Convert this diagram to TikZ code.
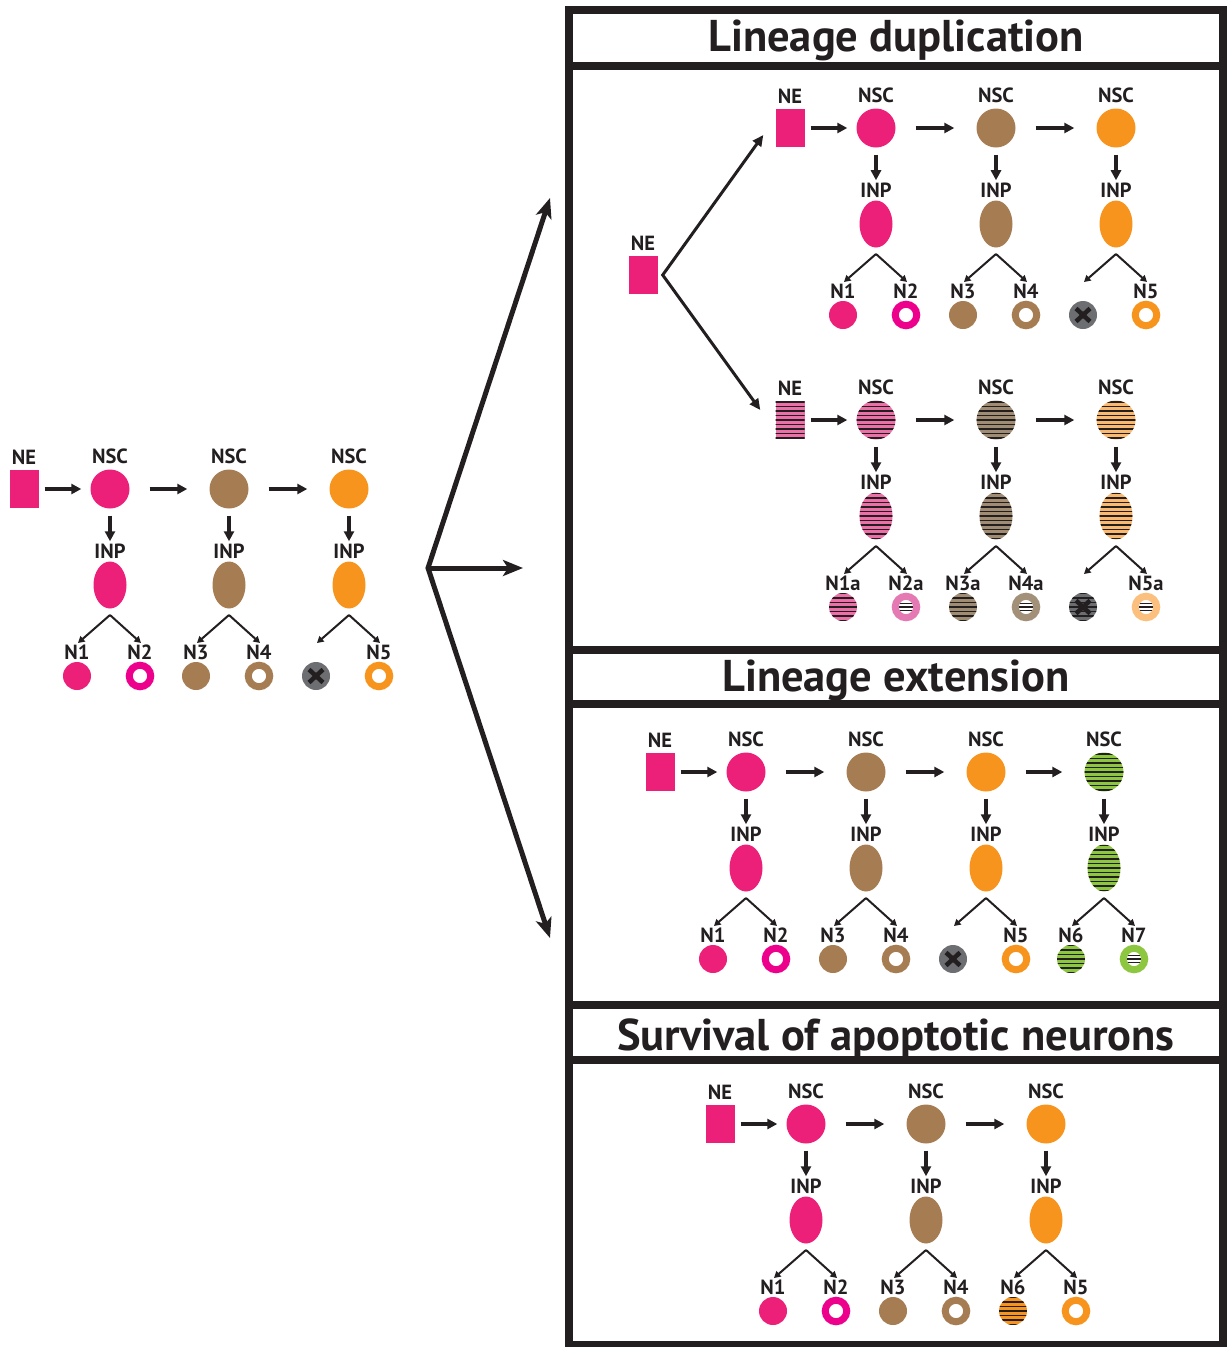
\documentclass[tikz,border=0pt]{standalone}
\usepackage{fontspec}
\setmainfont{PT Sans}
\usetikzlibrary{arrows.meta,shapes.geometric}
\definecolor{pinkc}{HTML}{EC1F79}
\definecolor{magc}{HTML}{EC008C}
\definecolor{brownc}{HTML}{A67C52}
\definecolor{orangec}{HTML}{F7941D}
\definecolor{greyc}{HTML}{6D6E71}
\definecolor{greenc}{HTML}{8DC63F}
\definecolor{pinks}{HTML}{EC6FA8}
\definecolor{browns}{HTML}{A08C73}
\definecolor{oranges}{HTML}{FBB970}
\definecolor{pinkr}{HTML}{E479B4}
\definecolor{brownr}{HTML}{A39079}
\definecolor{oranger}{HTML}{FBC07E}
\definecolor{framec}{HTML}{231F20}

\newcommand\stripeset{\foreach \k in {-6,...,6}{\draw[framec,line width=1.6pt] ([yshift=\k*4.5pt]path picture bounding box.center) ++(-25pt,0pt) -- ++(50pt,0pt);}}
\newcommand\innerstripes{\begin{scope}\clip (path picture bounding box.center) circle (7.5pt);\foreach \k in {-1,0,1}{\draw[framec,line width=1.4pt] ([yshift=\k*3.6pt]path picture bounding box.center) ++(-10pt,0pt) -- ++(20pt,0pt);}\end{scope}}
\newcommand\xmark{\draw[framec,line width=4.5pt] ([shift={(-7pt,-6.5pt)}]path picture bounding box.center) -- ([shift={(7pt,6.5pt)}]path picture bounding box.center);\draw[framec,line width=4.5pt] ([shift={(-7pt,6.5pt)}]path picture bounding box.center) -- ([shift={(7pt,-6.5pt)}]path picture bounding box.center);}

% #1 id, #2 x, #3 y, #4 cell fill style, #5 left neuron style, #6 right neuron style, #7 left label, #8 right label
\newcommand\lcol[8]{%
  \node[nscS,#4] (#1s) at (#2,#3) {};
  \node[lab] (#1sl) at (#2,#3-26) {NSC};
  \node[lab] (#1il) at (#2,#3+69) {INP};
  \node[inpS,#4] (#1i) at (#2,#3+96) {};
  \coordinate (#1ap) at (#2,#3+126);
  \coordinate (#1lt) at (#2-32,#3+154);
  \coordinate (#1rt) at (#2+31,#3+154);
  \node[lab] (#1ll) at (#2-33,#3+170) {#7};
  \node[lab] (#1rl) at (#2+30,#3+170) {#8};
  \node[#5] (#1ln) at (#2-33,#3+187) {};
  \node[#6] (#1rn) at (#2+30,#3+187) {};
  \draw[harr] ([yshift=-7pt]#1s.south) -- ([yshift=2pt]#1il.north);
  \draw[barr] (#1ap) -- (#1lt);
  \draw[barr] (#1ap) -- (#1rt);
}

\begin{document}
\begin{tikzpicture}[x=1pt,y=-1pt,
  lab/.style={font=\bfseries\fontsize{20.5}{20.5}\selectfont, inner sep=0pt, anchor=base, text=framec},
  ttl/.style={font=\bfseries\fontsize{44.5}{44.5}\selectfont, inner sep=0pt, anchor=base, text=framec},
  nscS/.style={circle, minimum size=39pt, inner sep=0pt},
  inpS/.style={ellipse, minimum width=33pt, minimum height=47pt, inner sep=0pt},
  neS/.style={rectangle, minimum width=29pt, minimum height=38pt, inner sep=0pt},
  neu/.style={circle, minimum size=28pt, inner sep=0pt},
  pk/.style={fill=pinkc}, br/.style={fill=brownc}, og/.style={fill=orangec},
  pkS/.style={fill=pinks, path picture={\stripeset}},
  brS/.style={fill=browns, path picture={\stripeset}},
  ogS/.style={fill=oranges, path picture={\stripeset}},
  gnS/.style={fill=greenc, path picture={\stripeset}},
  ogSS/.style={fill=orangec, path picture={\stripeset}},
  ring/.style={circle, minimum size=21.5pt, inner sep=0pt, line width=7pt, fill=white, draw=#1},
  sring/.style={circle, minimum size=21.5pt, inner sep=0pt, line width=7pt, fill=white, draw=#1, path picture={\innerstripes}},
  dead/.style={neu, fill=greyc, path picture={\xmark}},
  deadS/.style={neu, fill=greyc, path picture={\stripeset\xmark}},
  harr/.style={line width=3.2pt, draw=framec, -{Triangle[length=10pt,width=10pt]}},
  barr/.style={line width=2pt, draw=framec, -{Triangle[length=6.5pt,width=7pt]}},
  nearr/.style={line width=3pt, draw=framec, line join=miter, {Triangle[length=11pt,width=10pt]}-{Triangle[length=11pt,width=10pt]}},
  bigarr/.style={line width=5pt, draw=framec, line join=miter, {Stealth[length=20pt,width=16pt,inset=5pt]}-{Stealth[length=20pt,width=16pt,inset=5pt]}},
  bigarr1/.style={line width=5pt, draw=framec, -{Stealth[length=20pt,width=16pt,inset=5pt]}},
]
\useasboundingbox (0,0) rectangle (1227,1347);

% ---------- left lineage ----------
\node[neS,pk] (Lne) at (24,489) {};
\node[lab] (Lnel) at (24,464) {NE};
\lcol{La}{110}{489}{pk}{neu,pk}{ring=magc}{N1}{N2}
\lcol{Lb}{229}{489}{br}{neu,br}{ring=brownc}{N3}{N4}
\lcol{Lc}{349}{489}{og}{dead}{ring=orangec}{}{N5}
\draw[harr,shorten <=6pt,shorten >=9pt] (Lne.east) -- (Las.west);
\draw[harr,shorten <=20pt,shorten >=22pt] (Las.east) -- (Lbs.west);
\draw[harr,shorten <=20pt,shorten >=22pt] (Lbs.east) -- (Lcs.west);

% ---------- big arrows ----------
\coordinate (hub) at (428,568);
\coordinate (tup) at (550,198);
\coordinate (tmid) at (523,568);
\coordinate (tdn) at (550,938);
\draw[bigarr] (tup) -- (hub) -- (tdn);
\draw[bigarr1] (hub) -- (tmid);

% ---------- frame ----------
\draw[framec,line width=8pt] (569,10) rectangle (1223,1345);
\draw[framec,line width=8pt] (569,66) -- (1223,66);
\draw[framec,line width=8pt] (569,650) -- (1223,650);
\draw[framec,line width=8pt] (569,704) -- (1223,704);
\draw[framec,line width=8pt] (569,1005) -- (1223,1005);
\draw[framec,line width=8pt] (569,1060) -- (1223,1060);
\node[ttl] (t1) at (896,51) {Lineage duplication};
\node[ttl] (t2) at (896,691) {Lineage extension};
\node[ttl] (t3) at (896,1050) {Survival of apoptotic neurons};

% ---------- panel 1 ----------
\node[neS,pk] (Pne) at (643,275) {};
\node[lab] (Pnel) at (643,250) {NE};
\node[neS,pk] (Ane) at (790,128) {};
\node[lab] (Anel) at (790,103) {NE};
\lcol{Aa}{876}{128}{pk}{neu,pk}{ring=magc}{N1}{N2}
\lcol{Ab}{996}{128}{br}{neu,br}{ring=brownc}{N3}{N4}
\lcol{Ac}{1116}{128}{og}{dead}{ring=orangec}{}{N5}
\draw[harr,shorten <=6pt,shorten >=9pt] (Ane.east) -- (Aas.west);
\draw[harr,shorten <=20pt,shorten >=22pt] (Aas.east) -- (Abs.west);
\draw[harr,shorten <=20pt,shorten >=22pt] (Abs.east) -- (Acs.west);

\node[neS,pkS] (Bne) at (790,420) {};
\node[lab] (Bnel) at (790,395) {NE};
\lcol{Ba}{876}{420}{pkS}{neu,pkS}{sring=pinkr}{N1a}{N2a}
\lcol{Bb}{996}{420}{brS}{neu,brS}{sring=brownr}{N3a}{N4a}
\lcol{Bc}{1116}{420}{ogS}{deadS}{sring=oranger}{}{N5a}
\draw[harr,shorten <=6pt,shorten >=9pt] (Bne.east) -- (Bas.west);
\draw[harr,shorten <=20pt,shorten >=22pt] (Bas.east) -- (Bbs.west);
\draw[harr,shorten <=20pt,shorten >=22pt] (Bbs.east) -- (Bcs.west);

\draw[nearr] ([shift={(-12pt,-7pt)}]Ane.west) -- ([xshift=5pt]Pne.east) -- ([shift={(-15pt,10pt)}]Bne.west);

% ---------- panel 2 ----------
\node[neS,pk] (Cne) at (660,772) {};
\node[lab] (Cnel) at (660,747) {NE};
\lcol{Ca}{746}{772}{pk}{neu,pk}{ring=magc}{N1}{N2}
\lcol{Cb}{866}{772}{br}{neu,br}{ring=brownc}{N3}{N4}
\lcol{Cc}{986}{772}{og}{dead}{ring=orangec}{}{N5}
\lcol{Cd}{1104}{772}{gnS}{neu,gnS}{sring=greenc}{N6}{N7}
\draw[harr,shorten <=6pt,shorten >=9pt] (Cne.east) -- (Cas.west);
\draw[harr,shorten <=20pt,shorten >=22pt] (Cas.east) -- (Cbs.west);
\draw[harr,shorten <=20pt,shorten >=22pt] (Cbs.east) -- (Ccs.west);
\draw[harr,shorten <=20pt,shorten >=22pt] (Ccs.east) -- (Cds.west);

% ---------- panel 3 ----------
\node[neS,pk] (Dne) at (720,1124) {};
\node[lab] (Dnel) at (720,1099) {NE};
\lcol{Da}{806}{1124}{pk}{neu,pk}{ring=magc}{N1}{N2}
\lcol{Db}{926}{1124}{br}{neu,br}{ring=brownc}{N3}{N4}
\lcol{Dc}{1046}{1124}{og}{neu,ogSS}{ring=orangec}{N6}{N5}
\draw[harr,shorten <=6pt,shorten >=9pt] (Dne.east) -- (Das.west);
\draw[harr,shorten <=20pt,shorten >=22pt] (Das.east) -- (Dbs.west);
\draw[harr,shorten <=20pt,shorten >=22pt] (Dbs.east) -- (Dcs.west);
\end{tikzpicture}
\end{document}
